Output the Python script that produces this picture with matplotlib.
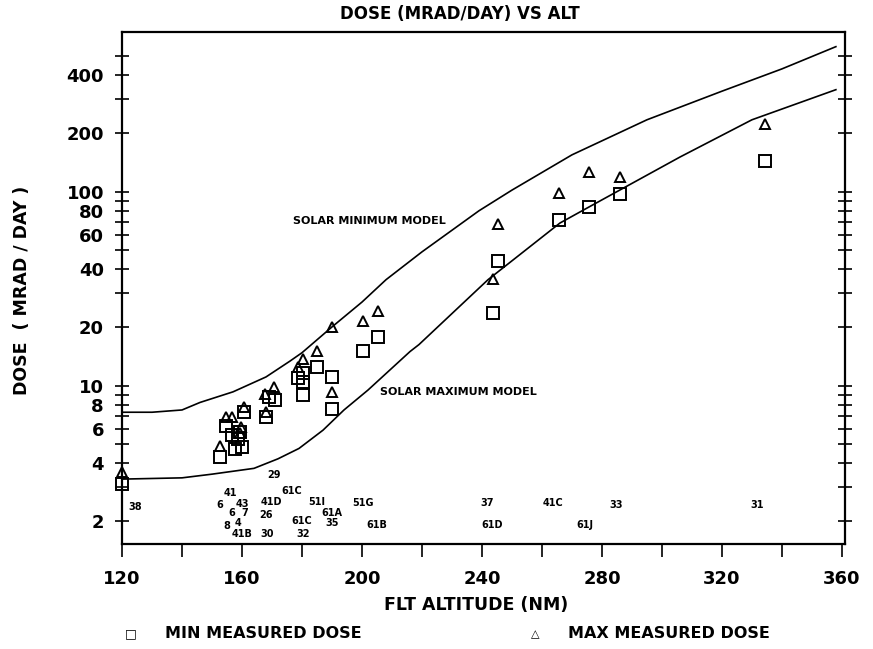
import matplotlib
matplotlib.use("Agg")
import matplotlib.pyplot as plt

# minimum measured dose (squares)
min_alt = [120, 152.7, 154.7, 156.7, 157.7, 158.7, 159.3, 160, 160.7, 168, 169, 171,
           178.7, 180.3, 180.3, 180.3, 185, 190, 190, 200.3, 205.3,
           243.7, 245.3, 265.7, 275.7, 286, 334.3]
min_dose = [3.1, 4.3, 6.2, 5.6, 4.7, 5.3, 5.8, 4.85, 7.3, 6.9, 8.7, 8.4,
            11.0, 11.7, 10.5, 9.0, 12.5, 11.1, 7.6, 15.1, 17.9,
            23.8, 44, 71.7, 83.7, 97.7, 144.5]

# maximum measured dose (triangles)
max_alt = [120, 152.7, 154.7, 156.7, 159.7, 159.3, 160.7, 168, 167.7, 170.7,
           178.7, 180.3, 185, 190, 190, 200.3, 205.3,
           243.7, 245.3, 265.7, 275.7, 286, 334.3]
max_dose = [3.6, 4.9, 6.9, 6.9, 6.1, 5.7, 7.8, 7.3, 9.1, 9.9,
            12.5, 13.8, 15.1, 20.1, 9.3, 21.6, 24.4,
            35.6, 68.4, 98.8, 126.8, 119, 224]

# model curves
solmin_alt = [120, 130, 140, 146, 157, 168, 176, 180, 190, 200, 208, 220, 239, 250, 270, 295, 320, 340, 358]
solmin_dose = [7.3, 7.3, 7.5, 8.2, 9.3, 11.1, 13.4, 14.8, 20.1, 27, 35.2, 49, 79.8, 102, 155, 235, 330, 430, 560]
solmax_alt = [120, 140, 150, 164, 172, 179, 187, 194, 202, 216, 219, 242, 266, 276, 306, 330, 358]
solmax_dose = [3.3, 3.35, 3.5, 3.75, 4.2, 4.75, 5.9, 7.5, 9.5, 15, 16.3, 35.2, 69, 84, 151, 235, 336]

# flight labels
flt_names = ["29", "61C", "41", "38", "6", "43", "41D", "51I", "51G", "6", "7", "26",
             "61A", "35", "61C", "8", "4", "41B", "30", "32", "61B",
             "37", "61D", "41C", "61J", "33", "31"]
flt_alt = [170.7, 176.7, 156, 124.3, 152.7, 160, 169.7, 185, 200.3, 156.7, 161, 168,
           190, 190, 180, 155, 158.7, 160, 168.3, 180.3, 205,
           241.7, 243.3, 263.7, 274.3, 284.7, 331.7]
flt_dose = [3.48, 2.88, 2.81, 2.38, 2.43, 2.46, 2.52, 2.52, 2.49, 2.21, 2.21, 2.16,
            2.21, 1.97, 2.01, 1.90, 1.97, 1.73, 1.73, 1.73, 1.92,
            2.49, 1.92, 2.49, 1.92, 2.43, 2.43]

yticks = [2, 3, 4, 5, 6, 7, 8, 9, 10, 20, 30, 40, 50, 60, 70, 80, 90, 100, 200, 300, 400, 500]
ylabeled = [2, 4, 6, 8, 10, 20, 40, 60, 80, 100, 200, 400]
xticks = [120, 140, 160, 180, 200, 220, 240, 260, 280, 300, 320, 340, 360]
xlabeled = [120, 160, 200, 240, 280, 320, 360]


def main():
    plt.rcParams['font.family'] = 'DejaVu Sans'
    plt.rcParams['font.weight'] = 'bold'
    fig = plt.figure(figsize=(8.73, 6.49), dpi=100)
    ax = fig.add_axes([0.1398, 0.162, 0.828, 0.789])

    ax.plot(solmin_alt, solmin_dose, 'k', lw=1.2)
    ax.plot(solmax_alt, solmax_dose, 'k', lw=1.2)
    ax.plot(min_alt, min_dose, 's', mfc='none', mec='k', mew=1.4, ms=8, clip_on=False)
    ax.plot(max_alt, max_dose, '^', mfc='none', mec='k', mew=1.4, ms=6.5, clip_on=False)

    for name, a, d in zip(flt_names, flt_alt, flt_dose):
        ax.text(a, d, name, fontsize=7, fontweight='bold', ha='center', va='center')

    ax.text(202.5, 71, "SOLAR MINIMUM MODEL", fontsize=8, fontweight='bold', ha='center', va='center')
    ax.text(232.3, 9.3, "SOLAR MAXIMUM MODEL", fontsize=8, fontweight='bold', ha='center', va='center')

    ax.set_yscale('log')
    ax.set_xlim(120, 361)
    ax.set_ylim(1.53, 668)
    ax.set_yticks(yticks)
    ax.set_yticklabels([str(t) if t in ylabeled else "" for t in yticks])
    ax.minorticks_off()
    ax.set_xticks(xticks)
    ax.set_xticklabels([str(t) if t in xlabeled else "" for t in xticks])
    ax.tick_params(axis='y', direction='inout', length=10, width=1.2, labelsize=13,
                   right=True, pad=8)
    ax.tick_params(axis='x', direction='out', length=9, width=1.2, labelsize=13, pad=10)
    for s in ax.spines.values():
        s.set_linewidth(1.6)

    fig.text(460 / 873, 1 - 14 / 649, "DOSE (MRAD/DAY) VS ALT", fontsize=12,
             fontweight='bold', ha='center', va='center')
    fig.text(476 / 873, 1 - 605 / 649, "FLT ALTITUDE (NM)", fontsize=12.5,
             fontweight='bold', ha='center', va='center')
    fig.text(22 / 873, 1 - 290 / 649, "DOSE  ( MRAD / DAY )", fontsize=12.5,
             fontweight='bold', ha='center', va='center', rotation=90)

    # legend row under the axis title
    fig.text(131 / 873, 1 - 634 / 649, "\u25a1", fontsize=9, ha='center', va='center')
    fig.text(165 / 873, 1 - 634 / 649, "MIN MEASURED DOSE", fontsize=11.5,
             fontweight='bold', ha='left', va='center')
    fig.text(535 / 873, 1 - 634 / 649, "\u25b3", fontsize=8, ha='center', va='center')
    fig.text(568 / 873, 1 - 634 / 649, "MAX MEASURED DOSE", fontsize=11.5,
             fontweight='bold', ha='left', va='center')

    fig.savefig("out.png", dpi=100)


main()
